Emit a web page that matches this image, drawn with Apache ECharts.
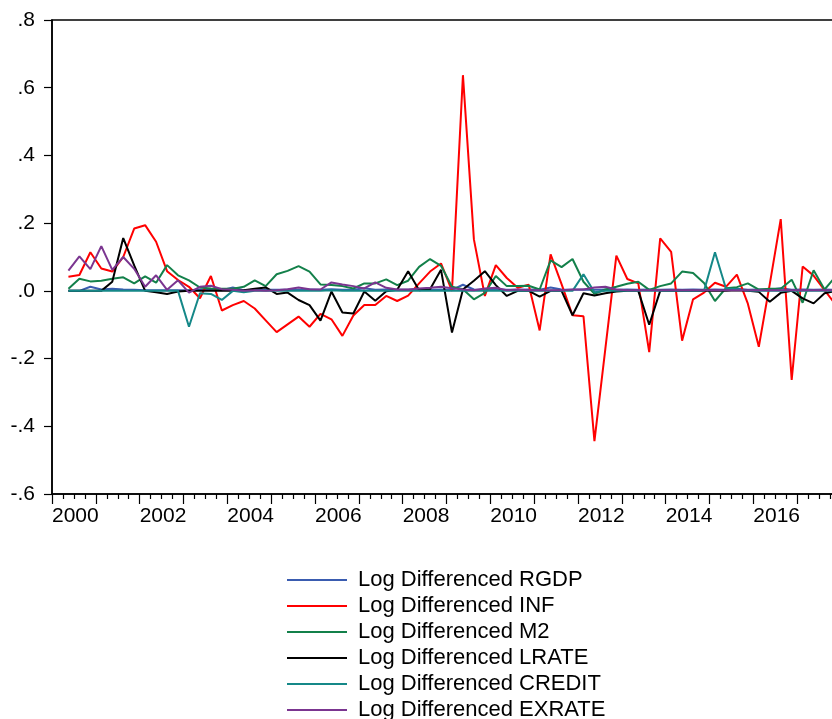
<!DOCTYPE html>
<html>
<head>
<meta charset="utf-8">
<script src="https://cdn.jsdelivr.net/npm/echarts@6/dist/echarts.min.js"></script>
<style>
html,body{margin:0;padding:0;background:#fff;}
#chart{width:832px;height:719px;}
</style>
</head>
<body>
<div id="chart"></div>
<script>
// Quarterly periods 2000Q2 .. 2017Q4
const firstYear = 2000, firstQuarter = 2, lastYear = 2017, lastQuarter = 4;
const periods = [];
for (let y = firstYear; y <= lastYear; y++) {
  for (let q = 1; q <= 4; q++) {
    if (y === firstYear && q < firstQuarter) continue;
    if (y === lastYear && q > lastQuarter) continue;
    periods.push(y + 'Q' + q);
  }
}

const seriesNames = [
  'Log Differenced RGDP',
  'Log Differenced INF',
  'Log Differenced M2',
  'Log Differenced LRATE',
  'Log Differenced CREDIT',
  'Log Differenced EXRATE'
];

const rgdp = [
  0.000, 0.000, 0.012, 0.004, 0.006, 0.004, 0.003, 0.002, 0.002, 0.002,
  0.002, 0.002, 0.004, 0.003, 0.002, 0.010, 0.002, 0.003, 0.003, 0.003,
  0.003, 0.003, 0.004, 0.003, 0.005, 0.003, 0.003, 0.008, 0.003, 0.004,
  0.003, 0.003, 0.004, 0.003, 0.004, 0.003, 0.018, 0.004, 0.003, 0.004,
  0.003, 0.003, 0.004, 0.003, 0.010, 0.004, 0.003, 0.004, 0.003, 0.004,
  0.003, 0.004, 0.003, 0.004, 0.003, 0.004, 0.003, 0.004, 0.003, 0.004,
  0.003, 0.006, 0.003, 0.004, 0.003, 0.008, 0.003, 0.004, 0.003, 0.004,
  0.003
];
const inf = [
  0.042, 0.047, 0.114, 0.066, 0.057, 0.100, 0.184, 0.194, 0.145, 0.058,
  0.032, 0.012, -0.022, 0.044, -0.058, -0.042, -0.030, -0.052, -0.087, -0.122,
  -0.099, -0.076, -0.106, -0.068, -0.084, -0.133, -0.073, -0.042, -0.042, -0.015,
  -0.030, -0.014, 0.022, 0.057, 0.081, 0.000, 0.637, 0.152, -0.015, 0.076,
  0.038, 0.009, 0.018, -0.117, 0.108, 0.020, -0.072, -0.075, -0.444, -0.170,
  0.104, 0.035, 0.022, -0.181, 0.155, 0.115, -0.147, -0.025, -0.005, 0.024,
  0.012, 0.048, -0.038, -0.165, 0.020, 0.212, -0.263, 0.072, 0.045, 0.002,
  -0.040
];
const m2 = [
  0.006, 0.036, 0.028, 0.030, 0.036, 0.040, 0.022, 0.043, 0.024, 0.076,
  0.046, 0.031, 0.010, 0.007, 0.006, 0.006, 0.012, 0.031, 0.014, 0.049,
  0.059, 0.073, 0.057, 0.019, 0.017, 0.014, 0.007, 0.022, 0.022, 0.034,
  0.017, 0.030, 0.071, 0.094, 0.074, 0.012, 0.005, -0.025, -0.006, 0.044,
  0.014, 0.014, 0.015, 0.004, 0.090, 0.070, 0.094, 0.027, -0.009, 0.004,
  0.012, 0.021, 0.027, 0.003, 0.014, 0.022, 0.057, 0.053, 0.023, -0.030,
  0.008, 0.011, 0.022, 0.004, 0.006, 0.006, 0.033, -0.035, 0.061, 0.004,
  0.042
];
const lrate = [
  0.000, 0.000, 0.000, 0.000, 0.027, 0.156, 0.075, 0.000, -0.004, -0.009,
  -0.002, 0.000, 0.000, 0.000, 0.000, 0.000, 0.002, 0.006, 0.010, -0.009,
  -0.005, -0.027, -0.042, -0.088, -0.002, -0.064, -0.067, -0.002, -0.029, -0.001,
  0.003, 0.058, 0.002, 0.005, 0.062, -0.123, 0.004, 0.030, 0.058, 0.017,
  -0.015, 0.000, 0.000, -0.017, 0.000, 0.000, -0.072, -0.007, -0.014, -0.007,
  -0.002, 0.000, 0.000, -0.100, 0.000, 0.000, 0.000, 0.000, 0.000, 0.000,
  0.000, 0.002, 0.000, -0.003, -0.032, -0.006, 0.000, -0.022, -0.037, -0.007,
  0.000
];
const credit = [
  0.000, 0.000, 0.000, 0.000, 0.000, 0.000, 0.000, 0.000, 0.000, 0.000,
  0.000, -0.106, -0.007, -0.009, -0.027, 0.000, -0.004, 0.000, 0.000, 0.000,
  0.000, 0.000, 0.000, 0.000, 0.002, 0.000, 0.000, 0.000, 0.000, 0.000,
  0.000, 0.000, 0.000, 0.000, 0.000, 0.000, 0.000, 0.000, 0.000, 0.000,
  0.000, 0.000, 0.000, 0.000, 0.000, 0.000, 0.000, 0.049, -0.004, 0.000,
  0.000, 0.000, 0.000, 0.000, 0.000, 0.000, 0.000, 0.000, 0.000, 0.114,
  0.007, 0.005, 0.000, 0.000, 0.000, 0.000, 0.000, 0.000, 0.000, 0.000,
  0.000
];
const exrate = [
  0.060, 0.102, 0.064, 0.132, 0.062, 0.100, 0.065, 0.012, 0.046, 0.003,
  0.031, -0.005, 0.012, 0.015, 0.005, 0.003, 0.000, 0.002, 0.000, 0.002,
  0.005, 0.010, 0.005, 0.004, 0.025, 0.019, 0.014, 0.007, 0.025, 0.009,
  0.004, 0.004, 0.007, 0.009, 0.012, 0.008, 0.004, 0.002, 0.007, 0.009,
  0.002, 0.004, 0.002, 0.002, 0.002, 0.002, 0.004, 0.004, 0.010, 0.012,
  0.004, 0.002, 0.002, 0.002, 0.002, 0.002, 0.002, 0.002, 0.002, 0.002,
  0.002, 0.002, 0.002, 0.002, 0.002, 0.002, 0.002, 0.002, 0.002, 0.002,
  0.002
];

const yTickLabels = {'-0.6':'-.6','-0.4':'-.4','-0.2':'-.2','0':'.0','0.2':'.2','0.4':'.4','0.6':'.6','0.8':'.8'};
const xTickLabels = ['2000','2002','2004','2006','2008','2010','2012','2014','2016'];

const colors = ['#3a5cb0', '#ff0000', '#13804a', '#000000', '#158888', '#7b3590'];
const allValues = [rgdp, inf, m2, lrate, credit, exrate];

function periodToX(p) {
  const y = parseInt(p.slice(0, 4), 10);
  const q = parseInt(p.slice(5), 10);
  return y + (q - 0.5) / 4;
}

const FONT = "'Liberation Sans', Arial, sans-serif";

const chart = echarts.init(document.getElementById('chart'), null, {renderer: 'canvas'});
chart.setOption({
  animation: false,
  backgroundColor: '#ffffff',
  grid: {
    left: 52, top: 20, width: 789, height: 474,
    outerBoundsMode: 'none', containLabel: false,
    show: true, borderColor: '#000', borderWidth: 1.5, backgroundColor: 'transparent'
  },
  xAxis: {
    type: 'value', min: 2000, max: 2018, interval: 1,
    axisLine: {show: true, onZero: false, lineStyle: {color: '#000', width: 1.5}},
    axisTick: {show: true, inside: false, length: 10, lineStyle: {color: '#000', width: 1.2}},
    minorTick: {show: true, splitNumber: 4, length: 5, lineStyle: {color: '#000', width: 1.2}},
    splitLine: {show: false},
    axisLabel: {
      show: true, color: '#000', fontFamily: FONT, fontSize: 21, align: 'left', margin: 12,
      showMaxLabel: false,
      formatter: function (v) {
        const s = String(Math.round(v));
        return xTickLabels.indexOf(s) >= 0 ? s : '';
      }
    }
  },
  yAxis: {
    type: 'value', min: -0.6, max: 0.8, interval: 0.2,
    axisLine: {show: true, onZero: false, lineStyle: {color: '#000', width: 1.5}},
    axisTick: {show: true, inside: false, length: 8, lineStyle: {color: '#000', width: 1.2}},
    splitLine: {show: false},
    axisLabel: {
      color: '#000', fontFamily: FONT, fontSize: 21, margin: 17,
      formatter: function (v) {
        const k = String(Math.round(v * 10) / 10);
        return yTickLabels[k] !== undefined ? yTickLabels[k] : '';
      }
    }
  },
  legend: {
    orient: 'vertical', left: 282, top: 563, height: 200,
    icon: 'rect', itemWidth: 60, itemHeight: 2, itemGap: 2,
    textStyle: {color: '#000', fontFamily: FONT, fontSize: 22, lineHeight: 24, padding: [0, 0, 0, 6]},
    data: seriesNames
  },
  series: seriesNames.map(function (name, k) {
    return {
      name: name, type: 'line', symbol: 'none', smooth: false,
      color: colors[k],
      lineStyle: {color: colors[k], width: 2},
      data: periods.map(function (p, i) { return [periodToX(p), allValues[k][i]]; })
    };
  })
});
</script>
</body>
</html>
